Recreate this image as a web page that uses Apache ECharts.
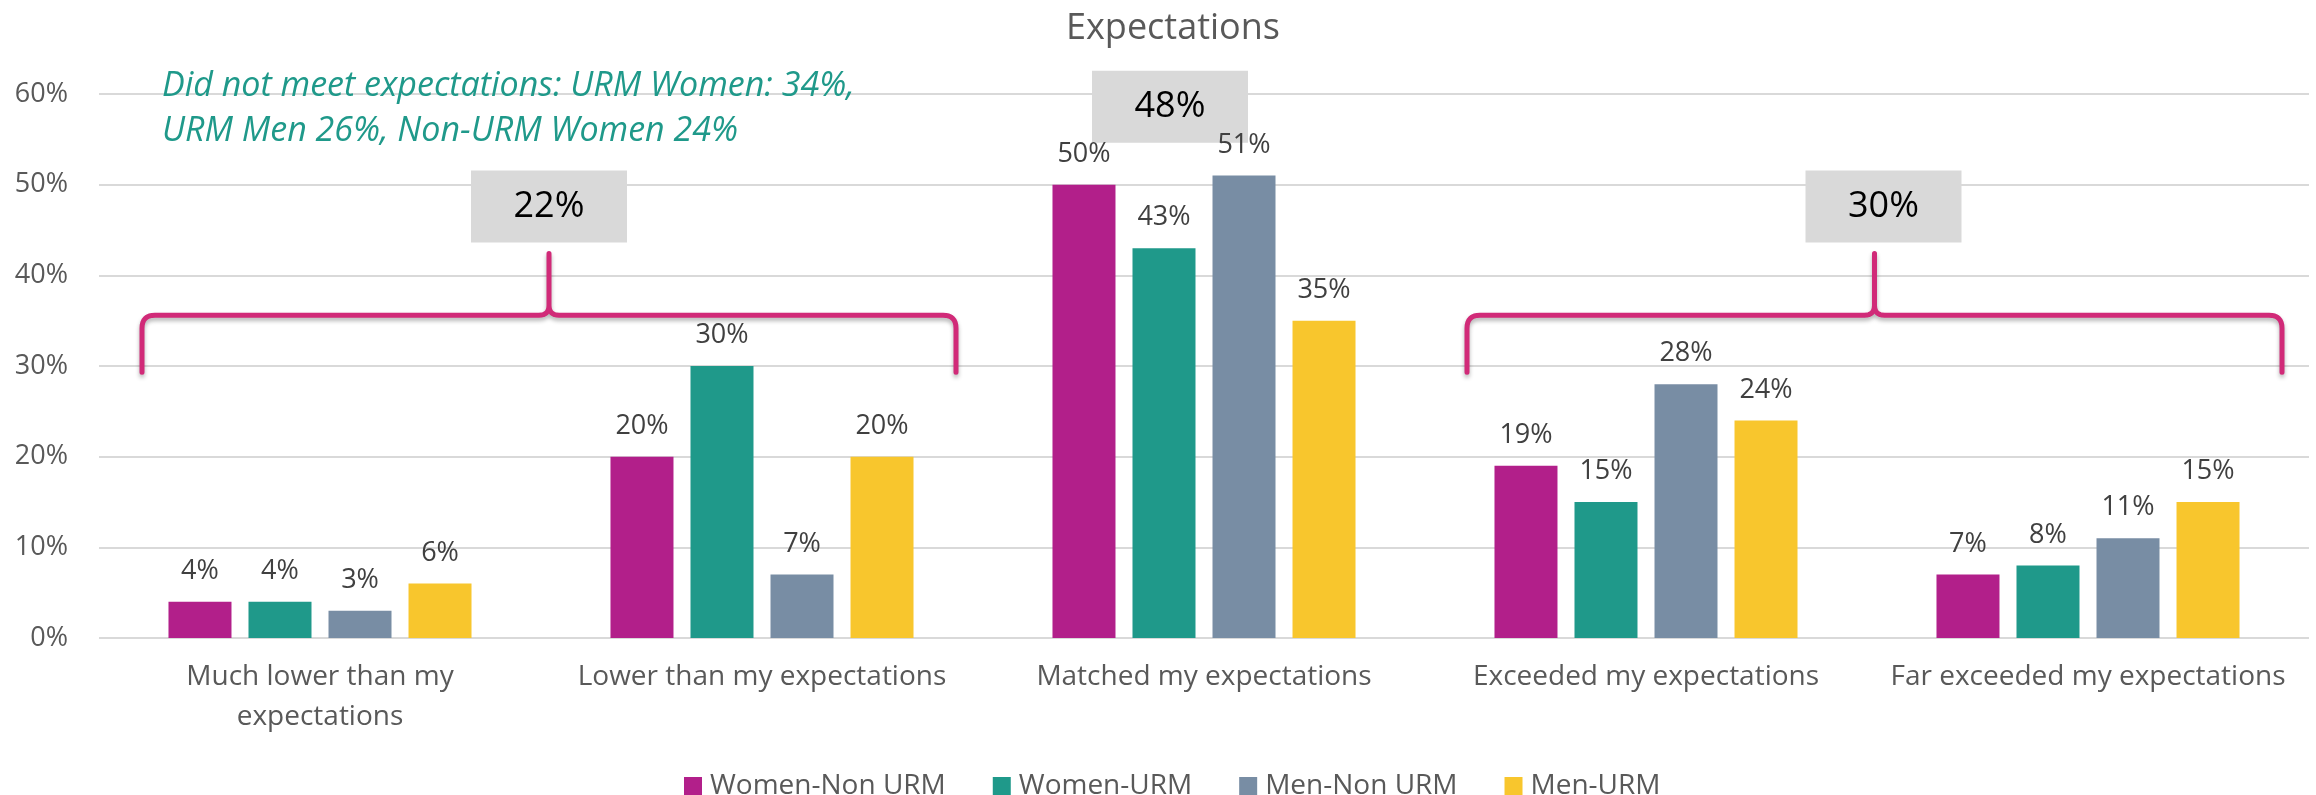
<!DOCTYPE html>
<html>
<head>
<meta charset="utf-8">
<title>Expectations</title>
<script src="https://cdn.jsdelivr.net/npm/echarts@6/dist/echarts.min.js"></script>
<style>
  html, body { margin: 0; padding: 0; background: #fff; }
  #chart { width: 2316px; height: 795px; }
</style>
</head>
<body>
<div id="chart"></div>
<script>
  // data
  var categories = ['Much lower than my\nexpectations', 'Lower than my expectations', 'Matched my expectations', 'Exceeded my expectations', 'Far exceeded my expectations']
  var womenNonUrm = [4, 20, 50, 19, 7]
  var womenUrm = [4, 30, 43, 15, 8]
  var menNonUrm = [3, 7, 51, 28, 11]
  var menUrm = [6, 20, 35, 24, 15]
  var yTicks = [0, 10, 20, 30, 40, 50, 60]
  var groupTotals = ['22%', '48%', '30%']
  var noteLines = ['Did not meet expectations: URM Women: 34%,', 'URM Men 26%, Non-URM Women 24%']

  var font = "'Open Sans', 'Noto Sans', sans-serif"
  var colors = {
    'Women-Non URM': '#b21f8a',
    'Women-URM': '#1f998a',
    'Men-Non URM': '#788da4',
    'Men-URM': '#f8c62d'
  }

  function barSeries (name, data) {
    return {
      name: name,
      type: 'bar',
      data: data,
      barWidth: 63,
      barGap: '27%',
      itemStyle: { color: colors[name] },
      label: {
        show: true,
        position: 'top',
        distance: 17,
        formatter: '{c}%',
        fontFamily: font,
        fontSize: 27,
        color: '#404040'
      }
    }
  }

  var option = {
    animation: false,
    backgroundColor: '#fff',
    title: {
      text: 'Expectations',
      left: 1168,
      textAlign: 'center',
      top: 6,
      textStyle: { fontFamily: font, fontSize: 36, fontWeight: 'normal', color: '#595959' }
    },
    legend: {
      top: 767,
      left: 679,
      itemWidth: 18,
      itemHeight: 18,
      itemGap: 47,
      icon: 'rect',
      textStyle: { fontFamily: font, fontSize: 28, color: '#595959', padding: [0, 0, 0, 3] },
      data: ['Women-Non URM', 'Women-URM', 'Men-Non URM', 'Men-URM']
    },
    grid: { left: 99, right: 7, top: 94, bottom: 157, containLabel: false },
    xAxis: {
      type: 'category',
      data: categories,
      axisLine: { show: false },
      axisTick: { show: false },
      axisLabel: { fontFamily: font, fontSize: 28, color: '#595959', margin: 19, lineHeight: 40, interval: 0 }
    },
    yAxis: {
      type: 'value',
      min: yTicks[0],
      max: yTicks[yTicks.length - 1],
      interval: yTicks[1] - yTicks[0],
      axisLine: { show: false },
      axisTick: { show: false },
      axisLabel: { formatter: '{value}%', fontFamily: font, fontSize: 27, color: '#595959', margin: 31 },
      splitLine: { lineStyle: { color: '#d9d9d9', width: 2 } }
    },
    series: [
      barSeries('Women-Non URM', womenNonUrm),
      barSeries('Women-URM', womenUrm),
      barSeries('Men-Non URM', menNonUrm),
      barSeries('Men-URM', menUrm)
    ]
  }

  var chart = echarts.init(document.getElementById('chart'))
  chart.setOption(option)

  function cx (i) { return chart.convertToPixel({ xAxisIndex: 0 }, i) }
  function cy (v) { return chart.convertToPixel({ yAxisIndex: 0 }, v) }

  // quadratic curve sampled into points
  function quad (p0, c, p1, pts) {
    for (var k = 1; k <= 8; k++) {
      var t = k / 8
      var a = (1 - t) * (1 - t), b = 2 * (1 - t) * t, d = t * t
      pts.push([a * p0[0] + b * c[0] + d * p1[0], a * p0[1] + b * c[1] + d * p1[1]])
    }
  }

  function bracePoints (x0, x1, yEnd, yLine, yTip) {
    var xm = (x0 + x1) / 2
    var r = 13
    var rt = 10
    var pts = [[x0, yEnd], [x0, yLine + r]]
    quad([x0, yLine + r], [x0, yLine], [x0 + r, yLine], pts)
    pts.push([xm - rt, yLine])
    quad([xm - rt, yLine], [xm, yLine], [xm, yLine - rt], pts)
    pts.push([xm, yTip])
    pts.push([xm, yLine - rt])
    quad([xm, yLine - rt], [xm, yLine], [xm + rt, yLine], pts)
    pts.push([x1 - r, yLine])
    quad([x1 - r, yLine], [x1, yLine], [x1, yLine + r], pts)
    pts.push([x1, yEnd])
    return pts
  }

  function brace (x0, x1) {
    return {
      type: 'polyline',
      z: 10,
      shape: { points: bracePoints(x0, x1, cy(29.3), cy(35.6), cy(42.4)) },
      style: {
        fill: null,
        stroke: '#d12a78',
        lineWidth: 5,
        lineJoin: 'round',
        lineCap: 'round',
        shadowColor: 'rgba(0,0,0,0.3)',
        shadowBlur: 4,
        shadowOffsetY: 3
      }
    }
  }

  function totalBox (text, xc, yc) {
    return {
      type: 'group',
      z: 10,
      children: [
        { type: 'rect', shape: { x: xc - 78, y: yc - 36, width: 156, height: 72 }, style: { fill: '#d9d9d9' } },
        { type: 'text', x: xc, y: yc, style: { text: text, fontFamily: font, fontSize: 36, fill: '#000', align: 'center', verticalAlign: 'middle' } }
      ]
    }
  }

  var leftTip = (cx(0) - 178 + cx(1) + 194) / 2
  var rightTip = (cx(3) - 179 + cx(4) + 194) / 2

  chart.setOption({
    graphic: [
      brace(cx(0) - 178, cx(1) + 194),
      brace(cx(3) - 179, cx(4) + 194),
      totalBox(groupTotals[0], leftTip, cy(47.6)),
      totalBox(groupTotals[1], cx(2) - 34, cy(58.6)),
      totalBox(groupTotals[2], rightTip + 9, cy(47.6)),
      {
        type: 'text',
        z: 10,
        x: 162,
        y: 64,
        style: {
          text: noteLines.join('\n'),
          fontFamily: font,
          fontStyle: 'italic',
          fontSize: 34,
          lineHeight: 45,
          fill: '#1f998a'
        }
      }
    ]
  })
</script>
</body>
</html>
